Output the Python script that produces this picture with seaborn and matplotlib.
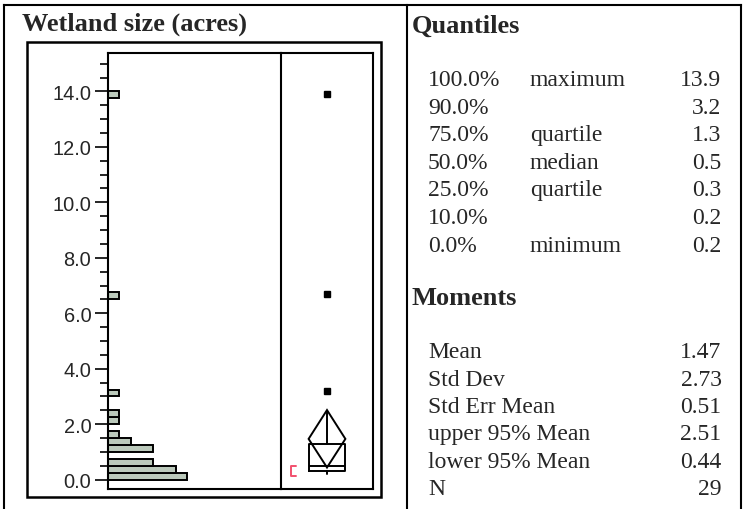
import numpy as np
import pandas as pd
import matplotlib
matplotlib.use("Agg")
import matplotlib.pyplot as plt
import seaborn as sns
from matplotlib.lines import Line2D
from matplotlib.patches import Polygon, Rectangle
from matplotlib.ticker import MultipleLocator

# Histogram of wetland sizes: lower bin edges (acres) and counts, bin width 0.25
bin_low = [0.0, 0.25, 0.5, 1.0, 1.25, 1.5, 2.0, 2.25, 3.0, 6.5, 13.75]
bin_count = [7, 6, 4, 4, 2, 1, 1, 1, 1, 1, 1]
bin_width = 0.25

# Outlier box plot / mean diamond summary
q1, median, q3 = 0.3, 0.5, 1.3
whisker_low, whisker_high = 0.2, 2.45
outliers = [3.2, 6.7, 13.9]
mean, lower_ci, upper_ci = 1.47, 0.44, 2.51
shortest_half = (0.15, 0.5)

y_ticks = [0, 2, 4, 6, 8, 10, 12, 14]

quantile_pct = ["100.0%", "90.0%", "75.0%", "50.0%", "25.0%", "10.0%", "0.0%"]
quantile_name = ["maximum", "", "quartile", "median", "quartile", "", "minimum"]
quantile_val = ["13.9", "3.2", "1.3", "0.5", "0.3", "0.2", "0.2"]

moment_name = ["Mean", "Std Dev", "Std Err Mean", "upper 95% Mean", "lower 95% Mean", "N"]
moment_val = ["1.47", "2.73", "0.51", "2.51", "0.44", "29"]

sns.set_style("white")
plt.rcParams["font.family"] = ["Liberation Sans", "DejaVu Sans"]

W, H = 743, 510
fig = plt.figure(figsize=(W / 100, H / 100), dpi=100)


def rect(x0, y0, x1, y1):
    return [x0 / W, 1 - y1 / H, (x1 - x0) / W, (y1 - y0) / H]


def fline(x0, y0, x1, y1, lw=1.5):
    fig.add_artist(Line2D([x0 / W, x1 / W], [1 - y0 / H, 1 - y1 / H],
                          transform=fig.transFigure, color="black", lw=lw,
                          solid_capstyle="projecting"))


# outer report frame and column divider
fline(4, 6, 741, 6)
fline(4, 6, 4, 512)
fline(741, 6, 741, 512)
fline(407, 6, 407, 512)
fig.add_artist(Rectangle((27 / W, 1 - 498 / H), (381 - 27) / W, (498 - 43) / H,
                         transform=fig.transFigure, fill=False, lw=1.8,
                         edgecolor="black"))

ax_h = fig.add_axes(rect(108, 54, 281, 490))
ax_b = fig.add_axes(rect(281, 54, 373, 490))

# histogram
df = pd.DataFrame({"size": np.array(bin_low) + bin_width / 2, "count": bin_count})
sns.histplot(data=df, y="size", weights="count", binwidth=bin_width,
             binrange=(0, 14), color="#BBC9BB", edgecolor="black",
             linewidth=1.4, alpha=1, ax=ax_h)

ylim = (-0.336, 15.384)
ax_h.set_ylim(*ylim)
ax_h.set_xlim(0, 15.3)
ax_h.set_xlabel("")
ax_h.set_ylabel("")
ax_h.set_xticks([])
ax_h.set_yticks(y_ticks)
ax_h.set_yticklabels([f"{v:.1f}" for v in y_ticks])
ax_h.yaxis.set_minor_locator(MultipleLocator(0.5))
ax_h.tick_params(axis="y", which="major", direction="out", length=9.4, width=1.4,
                 labelsize=14.4, pad=2.6, left=True)
ax_h.tick_params(axis="y", which="minor", direction="out", length=5.8, width=1.4,
                 left=True)
ax_h.spines["right"].set_visible(False)
for s in ax_h.spines.values():
    s.set_linewidth(1.5)
    s.set_color("black")

# outlier box plot with mean diamond
stats = [dict(med=median, q1=q1, q3=q3, whislo=whisker_low, whishi=whisker_high,
              fliers=outliers)]
ax_b.bxp(stats, positions=[0.5], widths=0.4, showcaps=False, manage_ticks=False,
         boxprops=dict(color="black", lw=1.4),
         whiskerprops=dict(color="black", lw=1.4),
         medianprops=dict(color="black", lw=1.4),
         flierprops=dict(marker="s", markersize=4, markerfacecolor="black",
                         markeredgecolor="black"))
ax_b.add_patch(Polygon([(0.5, upper_ci), (0.7, mean), (0.5, lower_ci), (0.3, mean)],
                       closed=True, fill=False, edgecolor="black", lw=1.4))
bx0, bx1 = 0.105, 0.16
ax_b.plot([bx1, bx0, bx0, bx1],
          [shortest_half[1], shortest_half[1], shortest_half[0], shortest_half[0]],
          color="#F2506E", lw=1.4)
ax_b.set_xlim(0, 1)
ax_b.set_ylim(*ylim)
ax_b.set_xticks([])
ax_b.set_yticks([])
ax_b.patch.set_alpha(0)
for s in ax_b.spines.values():
    s.set_linewidth(1.5)
    s.set_color("black")

# text report
serif = ["Liberation Serif", "DejaVu Serif"]
fig.text(22 / W, 1 - 30.5 / H, "Wetland size (acres)", fontfamily=serif,
         fontweight="bold", fontsize=19, va="baseline")
fig.text(412 / W, 1 - 33 / H, "Quantiles", fontfamily=serif,
         fontweight="bold", fontsize=19, va="baseline")
fig.text(412 / W, 1 - 305 / H, "Moments", fontfamily=serif,
         fontweight="bold", fontsize=19, va="baseline")

body = 17
for i, (p, n, v) in enumerate(zip(quantile_pct, quantile_name, quantile_val)):
    yb = 1 - (86 + 27.6 * i) / H
    fig.text(428 / W, yb, p, fontfamily=serif, fontsize=body, va="baseline")
    fig.text(530 / W, yb, n, fontfamily=serif, fontsize=body, va="baseline")
    fig.text(721.5 / W, yb, v, fontfamily=serif, fontsize=body, va="baseline",
             ha="right")

for i, (n, v) in enumerate(zip(moment_name, moment_val)):
    yb = 1 - (358.5 + 27.3 * i) / H
    fig.text(428 / W, yb, n, fontfamily=serif, fontsize=body, va="baseline")
    fig.text(721.5 / W, yb, v, fontfamily=serif, fontsize=body, va="baseline",
             ha="right")

fig.savefig("out.png", dpi=100)
